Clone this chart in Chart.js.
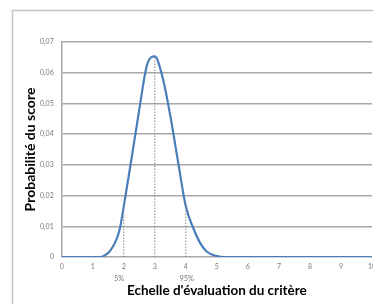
<!DOCTYPE html>
<html>
<head>
<meta charset="utf-8">
<script src="https://cdn.jsdelivr.net/npm/chart.js@4/dist/chart.umd.min.js"></script>
<style>
  html, body { margin: 0; padding: 0; background: #fff; }
  #wrap { width: 373px; height: 304px; position: relative; }
</style>
</head>
<body>
<div id="wrap"><canvas id="chart"></canvas></div>
<script>
  // score on the evaluation scale, and its probability
  const scoreX = [0, 1, 1.25, 1.4, 1.56, 1.77, 1.88, 2, 2.25, 2.5, 2.75, 3, 3.25, 3.5, 3.75, 4, 4.25, 4.46, 4.68, 5, 5.25, 6, 7, 8, 9, 10];
  const probY = [0, 0, 0, 0.0006, 0.002, 0.0058, 0.0095, 0.0165, 0.032, 0.048, 0.0625, 0.0653, 0.0585, 0.046, 0.031, 0.0165, 0.0092, 0.0046, 0.0017, 0.0003, 0, 0, 0, 0, 0, 0];

  // dotted markers : 5% quantile, mode, 95% quantile
  const markerX = [2, 3, 4];
  const markerTop = [0.0165, 0.0653, 0.0165];

  const pctLabels = ["5%", "95%"];
  const pctAt = [1.85, 4.03];

  const xTitle = "Echelle d'évaluation du critère";
  const yTitle = "Probabilité du score";

  const colors = {
    curve: "#4a7ebb",
    grid: "#a8a8a8",
    tick: "#7a7a7a",
    marker: "#8a8a8a",
    frame: "#c4c4c4",
    title: "#000",
  };
  const FONT = "Lato, 'Open Sans', sans-serif";

  const curve = scoreX.map((x, i) => ({ x, y: probY[i] }));
  const markerSets = markerX.map((x, i) => ({
    data: [{ x, y: 0 }, { x, y: markerTop[i] }],
    borderColor: colors.marker,
    borderWidth: 1,
    borderDash: [1.5, 1.5],
    pointRadius: 0,
    fill: false,
  }));

  const frame = {
    id: "frame",
    beforeDraw(chart) {
      const ctx = chart.ctx;
      ctx.save();
      ctx.fillStyle = "#fff";
      ctx.fillRect(0, 0, chart.width, chart.height);
      ctx.strokeStyle = colors.frame;
      ctx.lineWidth = 1.5;
      ctx.strokeRect(12.5, 10.5, chart.width + 20, chart.height + 20);
      ctx.restore();
    },
    afterDraw(chart) {
      const ctx = chart.ctx;
      const xs = chart.scales.x;
      ctx.save();
      ctx.fillStyle = colors.tick;
      ctx.font = "7.5px " + FONT;
      ctx.textAlign = "center";
      ctx.textBaseline = "middle";
      pctLabels.forEach((t, i) => ctx.fillText(t, xs.getPixelForValue(pctAt[i]), 279));
      ctx.restore();
    },
  };

  new Chart(document.getElementById("chart"), {
    type: "line",
    data: {
      datasets: [
        ...markerSets,
        {
          data: curve,
          borderColor: colors.curve,
          borderWidth: 2.2,
          pointRadius: 0,
          cubicInterpolationMode: "monotone",
          fill: false,
        },
      ],
    },
    options: {
      responsive: true,
      maintainAspectRatio: false,
      animation: false,
      layout: { padding: { left: 14, top: 42, right: 1, bottom: 0 } },
      plugins: { legend: { display: false }, tooltip: { enabled: false } },
      scales: {
        x: {
          type: "linear",
          min: 0,
          max: 10,
          ticks: { stepSize: 1, color: colors.tick, font: { size: 7, family: FONT }, padding: 6, maxRotation: 0 },
          grid: { display: false, drawTicks: false },
          border: { display: false },
          title: {
            display: true,
            text: xTitle,
            color: colors.title,
            font: { size: 13.5, weight: "bold", family: FONT },
            padding: { top: 0, bottom: 5.6 },
          },
          afterFit(s) {
            s.height = 47;
            s.paddingLeft = 0;
            s.paddingRight = 0;
          },
        },
        y: {
          min: 0,
          max: 0.07,
          ticks: {
            stepSize: 0.01,
            color: colors.tick,
            font: { size: 7, family: FONT },
            padding: 8,
            callback: (v) => (v === 0 ? "0" : (Math.round(v * 100) / 100).toFixed(2).replace(".", ",")),
          },
          grid: { color: colors.grid, lineWidth: 1.5, drawTicks: false },
          border: { display: true, color: colors.grid, width: 1.5 },
          title: {
            display: true,
            text: yTitle,
            color: colors.title,
            font: { size: 14, weight: "bold", family: FONT },
            padding: { top: 7.6, bottom: 0 },
          },
          afterFit(s) {
            s.width = 47.7;
          },
        },
      },
    },
    plugins: [frame],
  });
</script>
</body>
</html>
